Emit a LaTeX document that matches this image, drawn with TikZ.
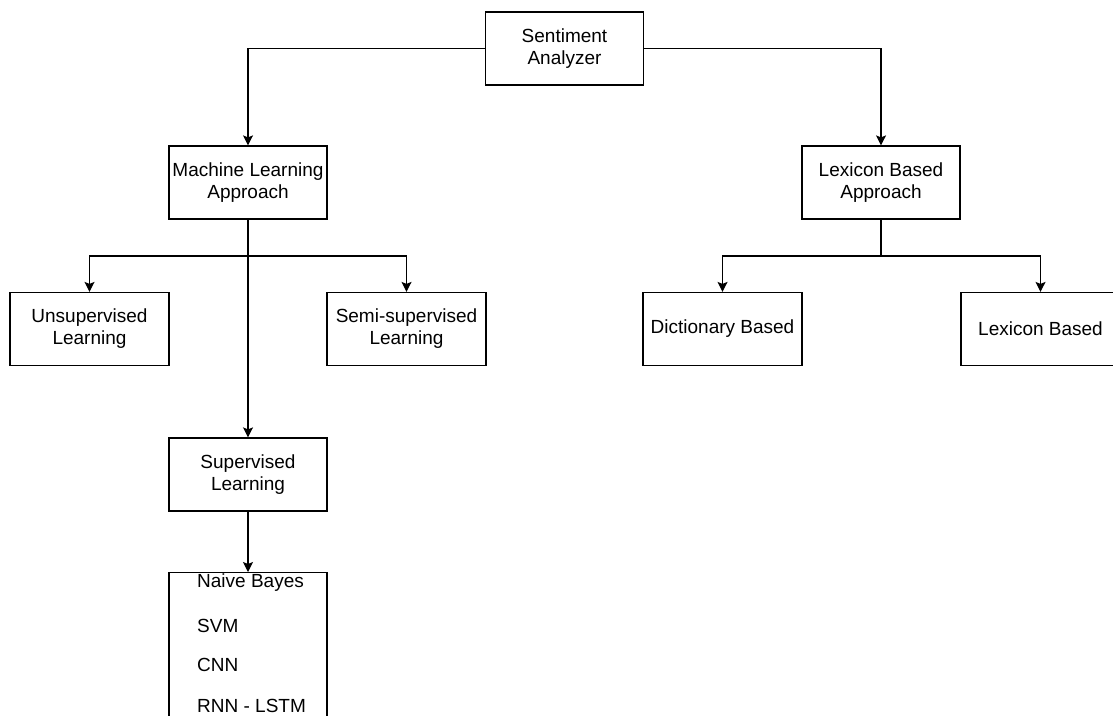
\documentclass[tikz,border=0pt]{standalone}
\usepackage{fontspec}
\setmainfont{Liberation Sans}
\usetikzlibrary{arrows.meta}
\begin{document}
\begin{tikzpicture}[x=1pt,y=-1pt,
  box/.style={draw=black, line width=1.2pt, fill=white, rectangle, minimum width=158pt, minimum height=73pt, align=center, inner sep=0pt, font=\fontsize{19}{22}\selectfont},
  item/.style={anchor=west, inner sep=0pt, font=\fontsize{19}{22}\selectfont},
  link/.style={line width=1.2pt, -{Stealth[length=10pt,width=10pt,inset=2pt]}},
  wire/.style={line width=1.2pt}]
  \clip (0,0) rectangle (1113,715);
  \fill[white] (0,0) rectangle (1113,715);

  % top level
  \node[box] (root) at (564.5,48.5) {Sentiment\\Analyzer};
  \node[box] (ml) at (248,182.5) {Machine Learning\\Approach};
  \node[box] (lex) at (881,182.5) {Lexicon Based\\Approach};

  % machine learning branch
  \node[box, minimum width=159pt] (unsup) at (89.5,329) {Unsupervised\\Learning};
  \node[box, minimum width=159pt] (semi) at (406.5,329) {Semi-supervised\\Learning};
  \node[box] (sup) at (248,474.5) {Supervised\\Learning};

  % lexicon branch
  \node[box, minimum width=159pt] (dict) at (722.5,329) {Dictionary Based};
  \node[box, minimum width=159pt] (lexb) at (1040.5,329) {Lexicon Based};

  % algorithm list (runs past the lower edge)
  \node[box, minimum height=160pt, anchor=north] (algos) at (248,572) {};
  \node[item] (nb) at (197,583) {Naive Bayes};
  \node[item] (svm) at (197,626) {SVM};
  \node[item] (cnn) at (197,665) {CNN};
  \node[item] (rnn) at (197,706) {RNN - LSTM};

  % connectors
  \draw[link] (root.west) -| (ml.north);
  \draw[link] (root.east) -| (lex.north);

  \coordinate (mlsplit) at (248,256);
  \draw[wire] (ml.south) -- (mlsplit);
  \draw[link] (mlsplit) -| (unsup.north);
  \draw[link] (mlsplit) -| (semi.north);
  \draw[link] (ml.south) -- (sup.north);
  \draw[link] (sup.south) -- (algos.north);

  \coordinate (lexsplit) at (881,256);
  \draw[wire] (lex.south) -- (lexsplit);
  \draw[link] (lexsplit) -| (dict.north);
  \draw[link] (lexsplit) -| (lexb.north);
\end{tikzpicture}
\end{document}
